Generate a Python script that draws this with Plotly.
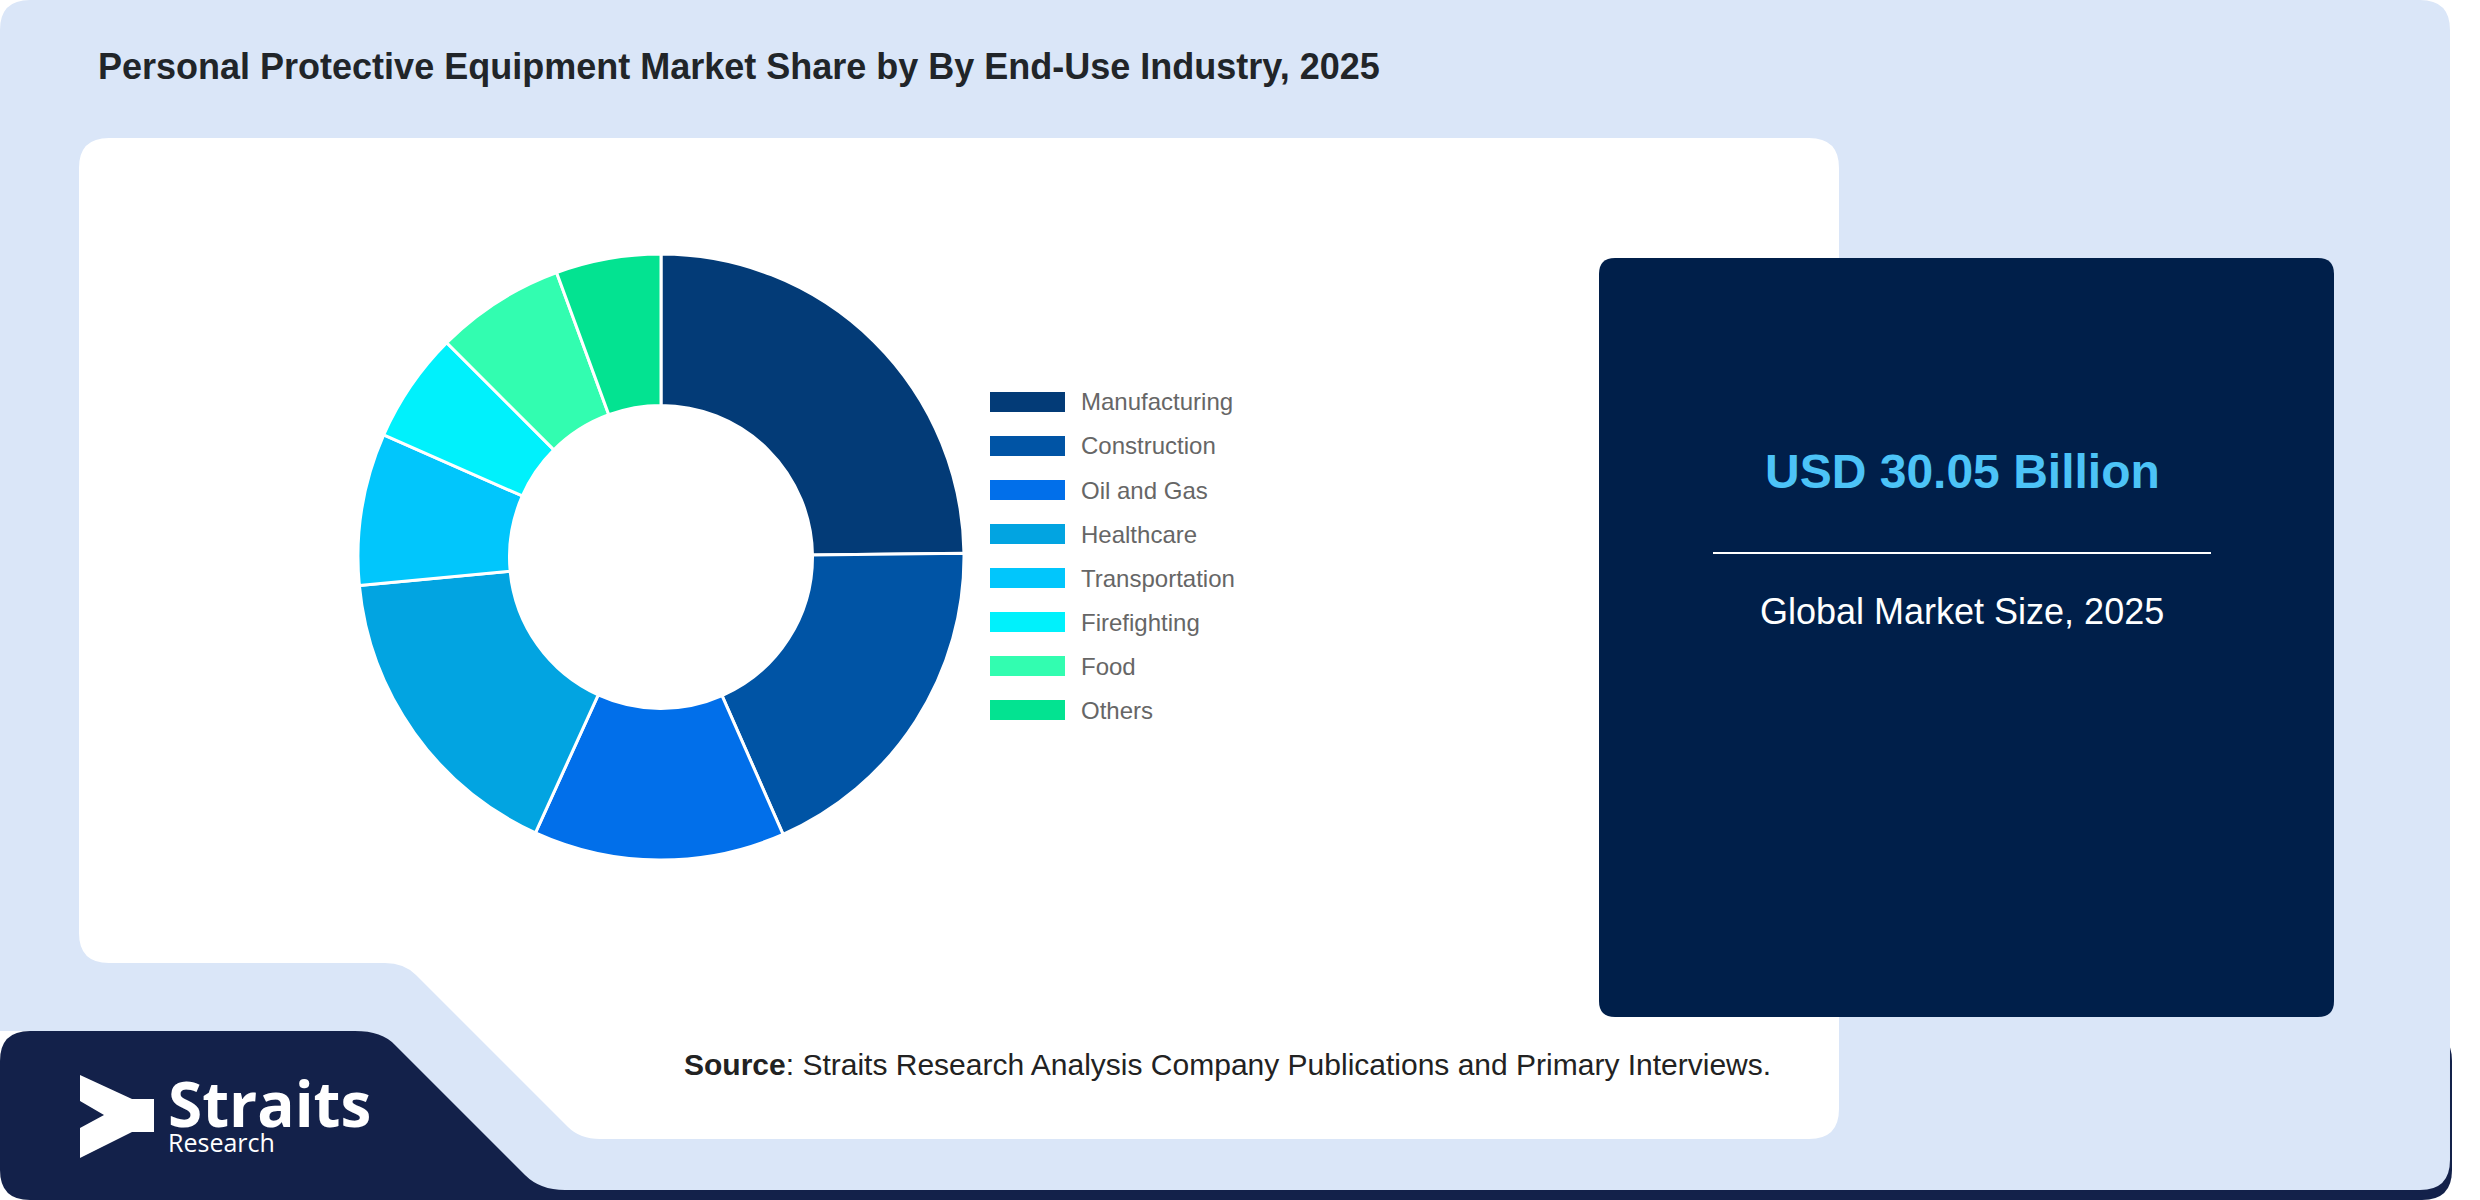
import plotly.graph_objects as go

# ---------------- data ----------------
categories = ["Manufacturing", "Construction", "Oil and Gas", "Healthcare",
              "Transportation", "Firefighting", "Food", "Others"]
shares = [24.8, 18.6, 13.4, 16.7, 8.1, 5.9, 6.9, 5.6]
colors = ["#033b77", "#0054a5", "#016fea", "#02a4e1",
          "#01c6fc", "#00f1fc", "#32fdb0", "#03e391"]

title_text = "Personal Protective Equipment Market Share by By End-Use Industry, 2025"
market_value = "USD 30.05 Billion"
market_label = "Global Market Size, 2025"
source_label = "Source"
source_text = ": Straits Research Analysis Company Publications and Primary Interviews."

W, H = 2480, 1200


def X(x):
    return x / W


def Y(y):
    return 1 - y / H


def P(cmds):
    """cmds: list of (letter, [x0,y0,x1,y1,...]) in pixel coords -> paper path"""
    out = []
    for c, pts in cmds:
        if c == "Z":
            out.append("Z")
            continue
        coords = []
        for i in range(0, len(pts), 2):
            coords.append(f"{X(pts[i]):.5f},{Y(pts[i+1]):.5f}")
        out.append(c + " ".join(coords))
    return " ".join(out)


def rrect(x0, y0, x1, y1, r):
    return P([
        ("M", [x0 + r, y0]), ("L", [x1 - r, y0]), ("Q", [x1, y0, x1, y0 + r]),
        ("L", [x1, y1 - r]), ("Q", [x1, y1, x1 - r, y1]),
        ("L", [x0 + r, y1]), ("Q", [x0, y1, x0, y1 - r]),
        ("L", [x0, y0 + r]), ("Q", [x0, y0, x0 + r, y0]), ("Z", []),
    ])


LIGHT = "#dae6f8"
NAVY_LOGO = "#13214a"
NAVY_PANEL = "#001f4a"

shapes = []
# navy strip behind (bottom)
shapes.append(dict(type="path", xref="paper", yref="paper", layer="below",
                   path=rrect(0, 1031, 2452, 1200, 30),
                   fillcolor=NAVY_LOGO, line=dict(width=0)))
# light blue card
shapes.append(dict(type="path", xref="paper", yref="paper", layer="below",
                   path=P([
                       ("M", [0, 30]), ("Q", [0, 0, 30, 0]), ("L", [2420, 0]),
                       ("Q", [2450, 0, 2450, 30]), ("L", [2450, 1160]),
                       ("Q", [2450, 1190, 2420, 1190]), ("L", [565, 1190]),
                       ("Q", [540, 1190, 525, 1175]), ("L", [395, 1045]),
                       ("Q", [382, 1031, 355, 1031]), ("L", [0, 1031]), ("Z", []),
                   ]),
                   fillcolor=LIGHT, line=dict(width=0)))
# white panel
shapes.append(dict(type="path", xref="paper", yref="paper", layer="below",
                   path=P([
                       ("M", [109, 138]), ("L", [1809, 138]), ("Q", [1839, 138, 1839, 168]),
                       ("L", [1839, 1109]), ("Q", [1839, 1139, 1809, 1139]),
                       ("L", [600, 1139]), ("Q", [580, 1139, 568, 1127]),
                       ("L", [416, 975]), ("Q", [404, 963, 385, 963]),
                       ("L", [109, 963]), ("Q", [79, 963, 79, 933]),
                       ("L", [79, 168]), ("Q", [79, 138, 109, 138]), ("Z", []),
                   ]),
                   fillcolor="white", line=dict(width=0)))
# right navy panel
shapes.append(dict(type="path", xref="paper", yref="paper", layer="below",
                   path=rrect(1599, 258, 2334, 1017, 16),
                   fillcolor=NAVY_PANEL, line=dict(width=0)))
# divider line
shapes.append(dict(type="line", xref="paper", yref="paper", layer="above",
                   x0=X(1713), x1=X(2211), y0=Y(553), y1=Y(553),
                   line=dict(color="white", width=2)))
# logo icon
shapes.append(dict(type="path", xref="paper", yref="paper", layer="above",
                   path=P([
                       ("M", [80, 1075]), ("L", [132, 1099]), ("L", [154, 1099]),
                       ("L", [154, 1132]), ("L", [132, 1132]), ("L", [80, 1158]),
                       ("L", [80, 1128]), ("L", [104, 1115]), ("L", [80, 1101]), ("Z", []),
                   ]),
                   fillcolor="white", line=dict(width=0)))

annotations = []
FONT = "Liberation Sans, Arial, sans-serif"

# legend (custom, drawn from categories & colors)
leg_y0, leg_dy = 402, 44
for i, (cat, col) in enumerate(zip(categories, colors)):
    yc = leg_y0 + i * leg_dy
    shapes.append(dict(type="rect", xref="paper", yref="paper", layer="above",
                       x0=X(990), x1=X(1065), y0=Y(yc - 10), y1=Y(yc + 10),
                       fillcolor=col, line=dict(width=0)))
    annotations.append(dict(xref="paper", yref="paper", x=X(1079), y=Y(yc),
                            xanchor="left", yanchor="middle", showarrow=False,
                            text=cat, font=dict(family=FONT, size=24, color="#666666")))

# title
annotations.append(dict(xref="paper", yref="paper", x=X(96), y=Y(66),
                        xanchor="left", yanchor="middle", showarrow=False,
                        text=f"<b>{title_text}</b>",
                        font=dict(family=FONT, size=36, color="#212529")))
# market value
annotations.append(dict(xref="paper", yref="paper", x=X(1962), y=Y(471),
                        xanchor="center", yanchor="middle", showarrow=False,
                        text=f"<b>{market_value}</b>",
                        font=dict(family=FONT, size=48, color="#4cc3f7")))
annotations.append(dict(xref="paper", yref="paper", x=X(1962), y=Y(611),
                        xanchor="center", yanchor="middle", showarrow=False,
                        text=market_label,
                        font=dict(family=FONT, size=36, color="white")))
# source
annotations.append(dict(xref="paper", yref="paper", x=X(682), y=Y(1064),
                        xanchor="left", yanchor="middle", showarrow=False,
                        text=f"<b>{source_label}</b>{source_text}",
                        font=dict(family=FONT, size=30, color="#222222")))
# logo text (one annotation, two lines)
annotations.append(dict(xref="paper", yref="paper", x=X(166), y=Y(1110),
                        xanchor="left", yanchor="middle", showarrow=False, align="left",
                        text="<b><span style='font-size:62px'>Straits</span></b><br>"
                             "<span style='font-size:25px'>Research</span>",
                        font=dict(family="Open Sans, Noto Sans, sans-serif", size=19, color="white")))

# donut
cx, cy, R = 661, 557, 303
fig = go.Figure(go.Pie(
    labels=categories, values=shares, sort=False, direction="clockwise",
    rotation=0, hole=0.5, textinfo="none", hoverinfo="label+percent",
    marker=dict(colors=colors, line=dict(color="white", width=3)),
    domain=dict(x=[X(cx - R), X(cx + R)], y=[Y(cy + R), Y(cy - R)]),
    showlegend=False,
))

fig.update_layout(
    width=W, height=H, margin=dict(l=0, r=0, t=0, b=0, pad=0),
    paper_bgcolor="white", plot_bgcolor="white",
    shapes=shapes, annotations=annotations, showlegend=False,
)

fig.write_html("out.html", config={"displayModeBar": False},
               post_script="document.body.style.margin='0';document.body.style.overflow='hidden';")
